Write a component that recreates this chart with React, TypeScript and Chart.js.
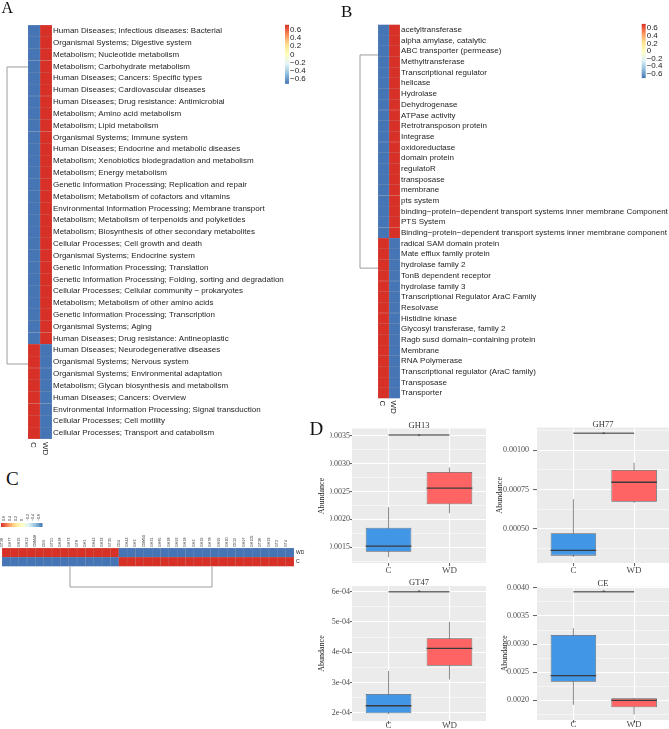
import React, { useEffect, useRef } from 'react';
import { Chart, registerables } from 'chart.js';
Chart.register(...registerables);

const SANS = '"Liberation Sans", Arial, sans-serif';
const SERIF = '"Liberation Serif", "Times New Roman", serif';

const groups = ['C', 'WD'];

// ---------- Panel A: KEGG pathways ----------
const pathways = [
  'Human Diseases; Infectious diseases: Bacterial',
  'Organismal Systems; Digestive system',
  'Metabolism; Nucleotide metabolism',
  'Metabolism; Carbohydrate metabolism',
  'Human Diseases; Cancers: Specific types',
  'Human Diseases; Cardiovascular diseases',
  'Human Diseases; Drug resistance: Antimicrobial',
  'Metabolism; Amino acid metabolism',
  'Metabolism; Lipid metabolism',
  'Organismal Systems; Immune system',
  'Human Diseases; Endocrine and metabolic diseases',
  'Metabolism; Xenobiotics biodegradation and metabolism',
  'Metabolism; Energy metabolism',
  'Genetic Information Processing; Replication and repair',
  'Metabolism; Metabolism of cofactors and vitamins',
  'Environmental Information Processing; Membrane transport',
  'Metabolism; Metabolism of terpenoids and polyketides',
  'Metabolism; Biosynthesis of other secondary metabolites',
  'Cellular Processes; Cell growth and death',
  'Organismal Systems; Endocrine system',
  'Genetic Information Processing; Translation',
  'Genetic Information Processing; Folding, sorting and degradation',
  'Cellular Processes; Cellular community \u2212 prokaryotes',
  'Metabolism; Metabolism of other amino acids',
  'Genetic Information Processing; Transcription',
  'Organismal Systems; Aging',
  'Human Diseases; Drug resistance: Antineoplastic',
  'Human Diseases; Neurodegenerative diseases',
  'Organismal Systems; Nervous system',
  'Organismal Systems; Environmental adaptation',
  'Metabolism; Glycan biosynthesis and metabolism',
  'Human Diseases; Cancers: Overview',
  'Environmental Information Processing; Signal transduction',
  'Cellular Processes; Cell motility',
  'Cellular Processes; Transport and catabolism',
];
const pathwayC = [
  -0.71, -0.71, -0.71, -0.71, -0.71, -0.71, -0.71, -0.71, -0.71, -0.71,
  -0.71, -0.71, -0.71, -0.71, -0.71, -0.71, -0.71, -0.71, -0.71, -0.71,
  -0.71, -0.71, -0.71, -0.71, -0.71, -0.71, -0.71,
  0.71, 0.71, 0.71, 0.71, 0.71, 0.71, 0.71, 0.71,
];
const pathwayWD = [
  0.71, 0.71, 0.71, 0.71, 0.71, 0.71, 0.71, 0.71, 0.71, 0.71,
  0.71, 0.71, 0.71, 0.71, 0.71, 0.71, 0.71, 0.71, 0.71, 0.71,
  0.71, 0.71, 0.71, 0.71, 0.71, 0.71, 0.71,
  -0.71, -0.71, -0.71, -0.71, -0.71, -0.71, -0.71, -0.71,
];
const pathwayClusterAnchors = [3.05, 28.16];

// ---------- Panel B: gene functions ----------
const genes = [
  'acetyltransferase',
  'alpha amylase, catalytic',
  'ABC transporter (permease)',
  'Methyltransferase',
  'Transcriptional regulator',
  'helicase',
  'Hydrolase',
  'Dehydrogenase',
  'ATPase activity',
  'Retrotransposon protein',
  'Integrase',
  'oxidoreductase',
  'domain protein',
  'regulatoR',
  'transposase',
  'membrane',
  'pts system',
  'binding\u2212protein\u2212dependent transport systems inner membrane Component',
  'PTS System',
  'Binding\u2212protein\u2212dependent transport systems inner membrane component',
  'radical SAM domain protein',
  'Mate efflux family protein',
  'hydrolase family 2',
  'TonB dependent receptor',
  'hydrolase family 3',
  'Transcriptional Regulator AraC Family',
  'Resolvase',
  'Histidine kinase',
  'Glycosyl transferase, family 2',
  'Ragb susd domain\u2212containing protein',
  'Membrane',
  'RNA Polymerase',
  'Transcriptional regulator (AraC family)',
  'Transposase',
  'Transporter',
];
const geneC = [
  -0.71, -0.71, -0.71, -0.71, -0.71, -0.71, -0.71, -0.71, -0.71, -0.71,
  -0.71, -0.71, -0.71, -0.71, -0.71, -0.71, -0.71, -0.71, -0.71, -0.71,
  0.71, 0.71, 0.71, 0.71, 0.71, 0.71, 0.71, 0.71, 0.71, 0.71,
  0.71, 0.71, 0.71, 0.71, 0.71,
];
const geneWD = [
  0.71, 0.71, 0.71, 0.71, 0.71, 0.71, 0.71, 0.71, 0.71, 0.71,
  0.71, 0.71, 0.71, 0.71, 0.71, 0.71, 0.71, 0.71, 0.71, 0.71,
  -0.71, -0.71, -0.71, -0.71, -0.71, -0.71, -0.71, -0.71, -0.71, -0.71,
  -0.71, -0.71, -0.71, -0.71, -0.71,
];
const geneClusterAnchors = [2.35, 22.3];

// ---------- Panel C: CAZy families ----------
const cazymes = [
  'GT28', 'GH77', 'GH25', 'GH13', 'CBM48', 'CE9', 'GT51', 'GH36', 'GH73', 'GT8',
  'GH1', 'GH42', 'GH32', 'GT35', 'CE4', 'GH43', 'GH3', 'CBM50', 'GH31', 'GH65',
  'GH28', 'GH92', 'GH18', 'GH2', 'GH29', 'GH78', 'GH95', 'GH20', 'CE12', 'GH97',
  'GH105', 'GT26', 'GH23', 'GT2', 'GT4',
];
const cazyWD = [
  0.71, 0.71, 0.71, 0.71, 0.71, 0.71, 0.71, 0.71, 0.71, 0.71,
  0.71, 0.71, 0.71, 0.71,
  -0.71, -0.71, -0.71, -0.71, -0.71, -0.71, -0.71, -0.71, -0.71, -0.71,
  -0.71, -0.71, -0.71, -0.71, -0.71, -0.71, -0.71, -0.71, -0.71, -0.71, -0.71,
];
const cazyC = [
  -0.71, -0.71, -0.71, -0.71, -0.71, -0.71, -0.71, -0.71, -0.71, -0.71,
  -0.71, -0.71, -0.71, -0.71,
  0.71, 0.71, 0.71, 0.71, 0.71, 0.71, 0.71, 0.71, 0.71, 0.71,
  0.71, 0.71, 0.71, 0.71, 0.71, 0.71, 0.71, 0.71, 0.71, 0.71, 0.71,
];
const cazyClusterAnchors = [7.65, 24.67];

const legendValues = [0.6, 0.4, 0.2, 0, -0.2, -0.4, -0.6];
const legendLabels = ['0.6', '0.4', '0.2', '0', '\u22120.2', '\u22120.4', '\u22120.6'];

// ---------- Panel D: box plots [min, q1, median, q3, max] ----------
const gh13C = [0.00132, 0.00142, 0.00152, 0.00185, 0.00222];
const gh13WD = [0.00211, 0.00227, 0.00256, 0.00285, 0.00293];
const gh77C = [0.00032, 0.000328, 0.000362, 0.000471, 0.000688];
const gh77WD = [0.000665, 0.000672, 0.000796, 0.000874, 0.000921];
const gt47C = [0.000195, 0.000198, 0.000223, 0.000262, 0.000338];
const gt47WD = [0.00031, 0.000355, 0.000413, 0.000446, 0.000501];
const ceC = [0.00192, 0.00233, 0.00244, 0.00316, 0.00328];
const ceWD = [0.00175, 0.001876, 0.002, 0.002035, 0.002035];

const gh13Ticks = [0.0015, 0.002, 0.0025, 0.003, 0.0035];
const gh13TickLabels = ['0.0015', '0.0020', '0.0025', '0.0030', '0.0035'];
const gh13Minor = [0.00125, 0.00175, 0.00225, 0.00275, 0.00325];
const gh77Ticks = [0.0005, 0.00075, 0.001];
const gh77TickLabels = ['0.00050', '0.00075', '0.00100'];
const gh77Minor = [0.000375, 0.000625, 0.000875, 0.001125];
const gt47Ticks = [0.0002, 0.0003, 0.0004, 0.0005, 0.0006];
const gt47TickLabels = ['2e-04', '3e-04', '4e-04', '5e-04', '6e-04'];
const gt47Minor = [0.00025, 0.00035, 0.00045, 0.00055];
const ceTicks = [0.002, 0.0025, 0.003, 0.0035, 0.004];
const ceTickLabels = ['0.0020', '0.0025', '0.0030', '0.0035', '0.0040'];
const ceMinor = [0.00175, 0.00225, 0.00275, 0.00325, 0.00375];

const sigLevels = { GH13: 0.003513, GH77: 0.001108, GT47: 0.0006, CE: 0.00393 };

// ---------- colour helpers ----------
const PALETTE = [
  [69, 117, 180], [145, 191, 219], [224, 243, 248], [255, 255, 191],
  [254, 224, 144], [252, 141, 89], [215, 48, 39],
];
const allHeat = [...pathwayC, ...pathwayWD, ...geneC, ...geneWD, ...cazyC, ...cazyWD];
const VMIN = Math.min(...allHeat);
const VMAX = Math.max(...allHeat);

function heatRGB(v: number): number[] {
  const n = PALETTE.length;
  let t = (v - VMIN) / (VMAX - VMIN);
  t = Math.max(0, Math.min(1, t));
  const pos = t * (n - 1);
  const i = Math.min(Math.floor(pos), n - 2);
  const f = pos - i;
  return [0, 1, 2].map((k) => Math.round(PALETTE[i][k] + (PALETTE[i + 1][k] - PALETTE[i][k]) * f));
}
function heatColor(v: number) {
  const c = heatRGB(v);
  return `rgb(${c[0]},${c[1]},${c[2]})`;
}
function heatBorder(v: number) {
  const c = heatRGB(v);
  const g = 175;
  const m = c.map((x) => Math.round(x * 0.6 + g * 0.4));
  return `rgb(${m[0]},${m[1]},${m[2]})`;
}

function drawVBar(ctx: CanvasRenderingContext2D, b: any) {
  const grad = ctx.createLinearGradient(0, b.y0, 0, b.y1);
  const n = PALETTE.length;
  for (let k = 0; k < n; k++) {
    const c = PALETTE[n - 1 - k];
    grad.addColorStop(k / (n - 1), `rgb(${c[0]},${c[1]},${c[2]})`);
  }
  ctx.fillStyle = grad;
  ctx.fillRect(b.x0, b.y0, b.x1 - b.x0, b.y1 - b.y0);
  ctx.fillStyle = '#222';
  ctx.font = `8px ${SANS}`;
  ctx.textAlign = 'left';
  ctx.textBaseline = 'middle';
  legendValues.forEach((v, i) => {
    const y = b.y0 + ((VMAX - v) / (VMAX - VMIN)) * (b.y1 - b.y0);
    ctx.fillText(legendLabels[i], b.labelX, y);
  });
}

function drawHBar(ctx: CanvasRenderingContext2D, b: any) {
  const grad = ctx.createLinearGradient(b.x0, 0, b.x1, 0);
  const n = PALETTE.length;
  for (let k = 0; k < n; k++) {
    const c = PALETTE[n - 1 - k];
    grad.addColorStop(k / (n - 1), `rgb(${c[0]},${c[1]},${c[2]})`);
  }
  ctx.fillStyle = grad;
  ctx.fillRect(b.x0, b.y0, b.x1 - b.x0, b.y1 - b.y0);
  ctx.fillStyle = '#222';
  ctx.font = `3.6px ${SANS}`;
  ctx.textAlign = 'left';
  ctx.textBaseline = 'middle';
  legendValues.forEach((v, i) => {
    const x = b.x0 + ((VMAX - v) / (VMAX - VMIN)) * (b.x1 - b.x0);
    ctx.save();
    ctx.translate(x, b.labelY);
    ctx.rotate(-Math.PI / 2);
    ctx.fillText(legendLabels[i], 0, 0);
    ctx.restore();
  });
}

// ---------- row heatmaps (A, B) ----------
function rowHeatConfig(p: any) {
  const cell = { borderWidth: 0.5, borderSkipped: false, barPercentage: 1, categoryPercentage: 1 };
  return {
    type: 'bar',
    data: {
      labels: p.labels,
      datasets: [
        { label: groups[0], data: p.c.map(() => 1), backgroundColor: p.c.map(heatColor), borderColor: p.c.map(heatBorder), ...cell },
        { label: groups[1], data: p.wd.map(() => 1), backgroundColor: p.wd.map(heatColor), borderColor: p.wd.map(heatBorder), ...cell },
      ],
    },
    options: {
      indexAxis: 'y',
      responsive: false,
      animation: false,
      layout: { padding: { left: p.padLeft, top: p.padTop, bottom: p.padBottom, right: 0 } },
      plugins: { legend: { display: false }, tooltip: { enabled: false } },
      scales: {
        x: {
          stacked: true, min: 0, max: 2,
          ticks: { display: false }, grid: { display: false, drawTicks: false }, border: { display: false },
          afterFit: (s: any) => { s.height = 0; },
        },
        y: {
          stacked: true, position: 'right',
          grid: { display: false, drawTicks: false, tickLength: 0 }, border: { display: false },
          ticks: { autoSkip: false, padding: 1, color: '#1e1e1e', font: { family: SANS, size: 8 } },
          afterFit: (s: any) => { s.width = p.axisWidth; },
        },
      },
    },
    plugins: [{
      id: 'rowHeatDecor',
      afterDraw(chart: any) {
        const { ctx, chartArea: ca, scales } = chart;
        const x = scales.x, y = scales.y;
        ctx.save();
        ctx.strokeStyle = '#9c9c9c';
        ctx.lineWidth = 1;
        const ya = y.getPixelForValue(p.anchors[0]);
        const yb = y.getPixelForValue(p.anchors[1]);
        ctx.beginPath();
        ctx.moveTo(ca.left, ya); ctx.lineTo(p.dendroX, ya); ctx.lineTo(p.dendroX, yb); ctx.lineTo(ca.left, yb);
        ctx.stroke();
        ctx.fillStyle = '#1e1e1e';
        ctx.font = `8px ${SANS}`;
        ctx.textAlign = 'left';
        ctx.textBaseline = 'middle';
        groups.forEach((g, i) => {
          const gx = x.getPixelForValue(i + 0.5);
          ctx.save();
          ctx.translate(gx - 1, ca.bottom + p.labelGap);
          ctx.rotate(Math.PI / 2);
          ctx.fillText(g, 0, 0);
          ctx.restore();
        });
        drawVBar(ctx, p.bar);
        ctx.restore();
      },
    }],
  };
}

// ---------- column heatmap (C) ----------
function colHeatConfig() {
  const cell = { borderWidth: 0.5, borderSkipped: false, barPercentage: 1, categoryPercentage: 1 };
  return {
    type: 'bar',
    data: {
      labels: cazymes,
      datasets: [
        { label: groups[0], data: cazyC.map(() => 1), backgroundColor: cazyC.map(heatColor), borderColor: cazyC.map(heatBorder), ...cell },
        { label: groups[1], data: cazyWD.map(() => 1), backgroundColor: cazyWD.map(heatColor), borderColor: cazyWD.map(heatBorder), ...cell },
      ],
    },
    options: {
      responsive: false,
      animation: false,
      layout: { padding: { left: 2, top: 35, bottom: 33.5, right: 0 } },
      plugins: { legend: { display: false }, tooltip: { enabled: false } },
      scales: {
        x: {
          stacked: true, position: 'top',
          grid: { display: false, drawTicks: false, tickLength: 0 }, border: { display: false },
          ticks: { autoSkip: false, minRotation: 90, maxRotation: 90, padding: 1, color: '#1e1e1e', font: { family: SANS, size: 3.6 } },
          afterFit: (s: any) => { s.height = 13; },
        },
        y: {
          stacked: true, position: 'right', min: 0, max: 2,
          afterBuildTicks: (s: any) => { s.ticks = groups.map((_, i) => ({ value: i + 0.5 })); },
          grid: { display: false, drawTicks: false, tickLength: 0 }, border: { display: false },
          ticks: { padding: 2, color: '#1e1e1e', font: { family: SANS, size: 5 }, callback: (v: number) => groups[Math.floor(v)] },
          afterFit: (s: any) => { s.width = 36; },
        },
      },
    },
    plugins: [{
      id: 'colHeatDecor',
      afterDraw(chart: any) {
        const { ctx, chartArea: ca, scales } = chart;
        const x = scales.x;
        ctx.save();
        ctx.strokeStyle = '#9c9c9c';
        ctx.lineWidth = 1;
        const xa = x.getPixelForValue(cazyClusterAnchors[0]);
        const xb = x.getPixelForValue(cazyClusterAnchors[1]);
        const yd = ca.bottom + 20.5;
        ctx.beginPath();
        ctx.moveTo(xa, ca.bottom); ctx.lineTo(xa, yd); ctx.lineTo(xb, yd); ctx.lineTo(xb, ca.bottom);
        ctx.stroke();
        drawHBar(ctx, { x0: 1, x1: 42.5, y0: 23, y1: 27, labelY: 21 });
        ctx.restore();
      },
    }],
  };
}

// ---------- box plots (D) ----------
const boxColors = ['#4196E6', '#FF6464'];

function boxConfig(s: any) {
  const stats = [s.c, s.wd];
  const isMajor = (v: any) => typeof v === 'number' && s.majors.some((m: number) => Math.abs(m - v) < 1e-12);
  return {
    type: 'bar',
    data: {
      datasets: [
        {
          label: 'whisker', data: stats.map((st: number[], i: number) => ({ x: i + 1, y: [st[0], st[4]] })),
          backgroundColor: '#8a8a8a', maxBarThickness: 1, grouped: false, order: 2, borderWidth: 0,
        },
        {
          label: 'box', data: stats.map((st: number[], i: number) => ({ x: i + 1, y: [st[1], st[3]] })),
          backgroundColor: boxColors, borderColor: '#5c5c5c', borderWidth: 0.8, borderSkipped: false,
          grouped: false, barPercentage: 0.75, categoryPercentage: 1, order: 1,
        },
      ],
    },
    options: {
      responsive: false,
      animation: false,
      layout: { padding: { top: s.pt, right: s.pr, bottom: 0, left: 0 } },
      plugins: { legend: { display: false }, tooltip: { enabled: false } },
      scales: {
        x: {
          type: 'linear', min: 0.4, max: s.xMax, offset: false,
          grid: { offset: false, color: '#ffffff', lineWidth: 1.1, tickColor: '#333', tickLength: 3, tickWidth: 0.8 },
          border: { display: false },
          afterBuildTicks: (sc: any) => { sc.ticks = groups.map((_, i) => ({ value: i + 1 })); },
          ticks: {
            autoSkip: false, maxRotation: 0, padding: s.xPad, color: '#4D4D4D', font: { family: SERIF, size: 9 },
            callback: (v: number) => groups[Math.round(v) - 1] ?? '',
          },
          afterFit: (sc: any) => { sc.height = s.xh; },
        },
        y: {
          type: 'linear', min: s.yMin, max: s.yMax,
          grid: {
            color: '#ffffff',
            lineWidth: (c: any) => (isMajor(c.tick && c.tick.value) ? 1.1 : 0.5),
            tickColor: (c: any) => (isMajor(c.tick && c.tick.value) ? '#333' : 'rgba(0,0,0,0)'),
            tickLength: s.tickLen, tickWidth: 0.8,
          },
          border: { display: false },
          afterBuildTicks: (sc: any) => {
            sc.ticks = [...s.majors, ...s.minors].sort((a: number, b: number) => a - b).map((v: number) => ({ value: v }));
          },
          ticks: {
            autoSkip: false, padding: s.tickPad, color: '#4D4D4D', font: { family: SERIF, size: 8 },
            callback: (v: number) => {
              const k = s.majors.findIndex((m: number) => Math.abs(m - v) < 1e-12);
              return k >= 0 ? s.majorLabels[k] : '';
            },
          },
          title: s.yTitlePad == null
            ? { display: false }
            : { display: true, text: 'Abundance', color: '#1a1a1a', font: { family: SERIF, size: 8 }, padding: { top: s.yTitlePad, bottom: 0 } },
          afterFit: (sc: any) => { sc.width = s.yw; },
        },
      },
    },
    plugins: [{
      id: 'boxDecor',
      beforeDraw(chart: any) {
        const { ctx, chartArea: a } = chart;
        ctx.save();
        ctx.fillStyle = '#EBEBEB';
        ctx.fillRect(a.left, a.top, a.right - a.left, a.bottom - a.top);
        ctx.restore();
      },
      afterDatasetsDraw(chart: any) {
        const { ctx, scales } = chart;
        const xs = scales.x, ys = scales.y;
        const meta = chart.getDatasetMeta(1);
        ctx.save();
        ctx.strokeStyle = '#3a3a3a';
        ctx.lineWidth = 1.3;
        stats.forEach((st: number[], i: number) => {
          const el = meta.data[i];
          const y = ys.getPixelForValue(st[2]);
          ctx.beginPath();
          ctx.moveTo(el.x - el.width / 2, y);
          ctx.lineTo(el.x + el.width / 2, y);
          ctx.stroke();
        });
        const x1 = xs.getPixelForValue(1), x2 = xs.getPixelForValue(2);
        const sy = ys.getPixelForValue(s.sig);
        ctx.strokeStyle = '#6e6e6e';
        ctx.lineWidth = 1.6;
        ctx.beginPath();
        ctx.moveTo(x1, sy); ctx.lineTo(x2, sy);
        ctx.stroke();
        ctx.fillStyle = '#333';
        ctx.font = `6px ${SERIF}`;
        ctx.textAlign = 'center';
        ctx.textBaseline = 'alphabetic';
        ctx.fillText('*', (x1 + x2) / 2, sy + 2.5);
        ctx.restore();
      },
      afterDraw(chart: any) {
        const { ctx, chartArea: a } = chart;
        ctx.save();
        ctx.fillStyle = '#333';
        ctx.font = `8.5px ${SERIF}`;
        ctx.textAlign = 'center';
        ctx.textBaseline = 'alphabetic';
        ctx.fillText(s.title, (a.left + a.right) / 2, a.top - 0.6);
        ctx.restore();
      },
    }],
  };
}

function ChartCanvas({ left, top, width, height, make }: any) {
  const ref = useRef<HTMLCanvasElement>(null);
  useEffect(() => {
    const chart = new Chart(ref.current as HTMLCanvasElement, make());
    return () => chart.destroy();
  }, []);
  return (
    <div style={{ position: 'absolute', left, top, width, height }}>
      <canvas ref={ref} width={width} height={height} style={{ width, height, display: 'block' }} />
    </div>
  );
}

function PanelLabel({ text, left, top, size }: any) {
  return (
    <div style={{ position: 'absolute', left, top, fontFamily: SERIF, fontSize: size, lineHeight: `${size}px`, color: '#111' }}>
      {text}
    </div>
  );
}

export default function App() {
  return (
    <div style={{ position: 'absolute', left: 0, top: 0, width: 669, height: 729, background: '#fff', overflow: 'hidden' }}>
      <ChartCanvas
        left={0} top={0} width={330} height={460}
        make={() => rowHeatConfig({
          labels: pathways, c: pathwayC, wd: pathwayWD, padLeft: 28, padTop: 25, padBottom: 21, axisWidth: 278,
          anchors: pathwayClusterAnchors, dendroX: 7, labelGap: 3,
          bar: { x0: 285, x1: 289, y0: 24.8, y1: 83.8, labelX: 290 },
        })}
      />
      <ChartCanvas
        left={330} top={0} width={339} height={420}
        make={() => rowHeatConfig({
          labels: genes, c: geneC, wd: geneWD, padLeft: 48, padTop: 24.5, padBottom: 21.5, axisWidth: 269,
          anchors: geneClusterAnchors, dendroX: 30, labelGap: 2,
          bar: { x0: 311.7, x1: 315.7, y0: 23.9, y1: 78.1, labelX: 316.7 },
        })}
      />
      <ChartCanvas left={0} top={500} width={330} height={100} make={() => colHeatConfig()} />
      <ChartCanvas
        left={330} top={400} width={160} height={180}
        make={() => boxConfig({
          title: 'GH13', c: gh13C, wd: gh13WD, sig: sigLevels.GH13, yMin: 0.001218, yMax: 0.00363,
          majors: gh13Ticks, majorLabels: gh13TickLabels, minors: gh13Minor, xMax: 2.6,
          yw: 22, pt: 28.5, pr: 4, xh: 17, xPad: -1, tickLen: 2, tickPad: 0, yTitlePad: null,
        })}
      />
      <ChartCanvas
        left={492} top={400} width={177} height={180}
        make={() => boxConfig({
          title: 'GH77', c: gh77C, wd: gh77WD, sig: sigLevels.GH77, yMin: 0.000281, yMax: 0.001145,
          majors: gh77Ticks, majorLabels: gh77TickLabels, minors: gh77Minor, xMax: 2.575,
          yw: 45, pt: 27.5, pr: 0, xh: 17, xPad: -1, tickLen: 4, tickPad: 4, yTitlePad: 3,
        })}
      />
      <ChartCanvas
        left={310} top={560} width={180} height={169}
        make={() => boxConfig({
          title: 'GT47', c: gt47C, wd: gt47WD, sig: sigLevels.GT47, yMin: 0.0001726, yMax: 0.000619,
          majors: gt47Ticks, majorLabels: gt47TickLabels, minors: gt47Minor, xMax: 2.6,
          yw: 42, pt: 26, pr: 4, xh: 8, xPad: -3.5, tickLen: 2, tickPad: 0, yTitlePad: 7,
        })}
      />
      <ChartCanvas
        left={492} top={560} width={177} height={169}
        make={() => boxConfig({
          title: 'CE', c: ceC, wd: ceWD, sig: sigLevels.CE, yMin: 0.00165, yMax: 0.00402,
          majors: ceTicks, majorLabels: ceTickLabels, minors: ceMinor, xMax: 2.575,
          yw: 45, pt: 26.7, pr: 0, xh: 9, xPad: -3.5, tickLen: 4, tickPad: 4, yTitlePad: 8,
        })}
      />
      <div style={{
        position: 'absolute', left: 322, top: 495.8, transform: 'translate(-50%, -50%) rotate(-90deg)',
        fontFamily: SERIF, fontSize: 8, lineHeight: '10px', color: '#1a1a1a', whiteSpace: 'nowrap',
      }}>Abundance</div>
      <PanelLabel text="A" left={1.5} top={0} size={16} />
      <PanelLabel text="B" left={341} top={2.5} size={17} />
      <PanelLabel text="C" left={6} top={469} size={19} />
      <PanelLabel text="D" left={309.5} top={419} size={19} />
    </div>
  );
}
